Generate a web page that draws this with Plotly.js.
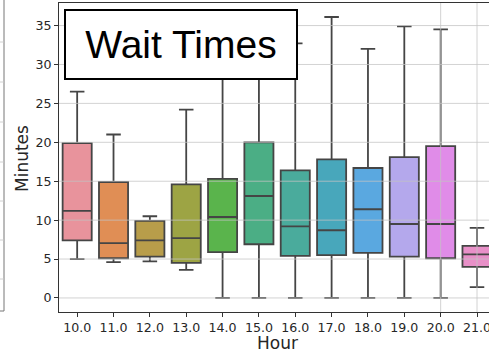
<!DOCTYPE html>
<html>
<head>
<meta charset="utf-8">
<script src="https://cdn.plot.ly/plotly-3.0.1.min.js"></script>
<style>html,body{margin:0;padding:0;background:#fff;}#chart{width:489px;height:354px;}</style>
</head>
<body>
<div id="chart"></div>
<script>
// Data (minutes by hour)
const hours = ['10.0','11.0','12.0','13.0','14.0','15.0','16.0','17.0','18.0','19.0','20.0','21.0'];
const lowerWhisker = [5.0, 4.6, 4.7, 3.6, 0, 0, 0, 0, 0, 0, 0, 1.4];
const q1Values     = [7.4, 5.1, 5.3, 4.5, 5.9, 6.9, 5.4, 5.5, 5.8, 5.3, 5.1, 4.0];
const medianValues = [11.2, 7.05, 7.4, 7.7, 10.4, 13.1, 9.2, 8.7, 11.4, 9.5, 9.5, 5.6];
const q3Values     = [19.9, 14.9, 9.9, 14.6, 15.3, 20.0, 16.4, 17.8, 16.7, 18.1, 19.5, 6.7];
const upperWhisker = [26.5, 21.0, 10.5, 24.2, 31.0, 34.0, 32.7, 36.1, 32.0, 34.9, 34.5, 9.0];
const boxColors = ['#e8939c','#e08e55','#b89d4a','#9da444','#5ab44c','#4bae85',
                   '#4aab9c','#48a7bb','#5aa8e0','#b4a8ec','#e08ce8','#e890c8'];
const yTicks = [0, 5, 10, 15, 20, 25, 30, 35];

const traces = hours.map((h, i) => ({
  type: 'box',
  name: h,
  x: [h],
  q1: [q1Values[i]],
  median: [medianValues[i]],
  q3: [q3Values[i]],
  lowerfence: [lowerWhisker[i]],
  upperfence: [upperWhisker[i]],
  fillcolor: boxColors[i],
  line: {color: '#454545', width: 1.8},
  width: 0.8,
  whiskerwidth: 0.5,
  boxpoints: false,
  showlegend: false
}));

const gridColor = 'rgba(195,195,195,0.75)';
const shapes = [];
hours.forEach(h => shapes.push({type:'line', xref:'x', yref:'paper', x0:h, x1:h, y0:0, y1:1,
  line:{color:gridColor, width:1}, layer:'above'}));
yTicks.forEach(v => shapes.push({type:'line', xref:'paper', yref:'y', x0:0, x1:1, y0:v, y1:v,
  line:{color:gridColor, width:1}, layer:'above'}));

// remnant of a neighbouring panel at the far left edge
const pxX = p => (p - 59) / 430;
const pxY = p => (312 - p) / 309;
shapes.push({type:'line', xref:'paper', yref:'paper', x0:pxX(4), x1:pxX(4), y0:pxY(0), y1:pxY(311),
  line:{color:'#777', width:1}});
shapes.push({type:'line', xref:'paper', yref:'paper', x0:pxX(-2), x1:pxX(4), y0:pxY(311), y1:pxY(311),
  line:{color:'#777', width:1}});
[42, 82, 122, 162, 201, 240, 279].forEach(p => shapes.push({type:'line', xref:'paper', yref:'paper',
  x0:pxX(-2), x1:pxX(3.5), y0:pxY(p), y1:pxY(p), line:{color:'#d0d0d0', width:1}}));

const tickFont = {family:'DejaVu Sans', size:12.6, color:'#262626'};

const layout = {
  width: 489, height: 354,
  margin: {l:59, r:0, t:3, b:42, pad:0},
  paper_bgcolor: '#ffffff', plot_bgcolor: '#ffffff',
  showlegend: false,
  boxmode: 'overlay',
  xaxis: {
    type: 'category', range: [-0.5, 11.33],
    showgrid: false, zeroline: false,
    showline: true, mirror: true, linecolor: '#333', linewidth: 1,
    ticks: 'outside', ticklen: 4, tickcolor: '#333',
    tickfont: tickFont, fixedrange: true
  },
  yaxis: {
    range: [-1.805, 37.9], tickvals: yTicks,
    showgrid: false, zeroline: false,
    showline: true, linecolor: '#333', linewidth: 1,
    ticks: 'outside', ticklen: 4, tickcolor: '#333',
    tickfont: tickFont, fixedrange: true
  },
  shapes: shapes,
  annotations: [
    {text:'Minutes', xref:'paper', yref:'paper', x:pxX(22), y:pxY(159), textangle:-90,
     showarrow:false, xanchor:'center', yanchor:'middle',
     font:{family:'DejaVu Sans', size:17, color:'#262626'}},
    {text:'Hour', xref:'paper', yref:'paper', x:pxX(277), y:pxY(343),
     showarrow:false, xanchor:'center', yanchor:'middle',
     font:{family:'DejaVu Sans', size:17, color:'#262626'}},
    {text:'Wait Times', xref:'paper', yref:'paper', x:pxX(64), y:pxY(9),
     xanchor:'left', yanchor:'top', showarrow:false,
     width:230, height:67, borderpad:0, borderwidth:2, bordercolor:'#000', bgcolor:'#ffffff',
     align:'center', valign:'middle',
     font:{family:'Liberation Sans', size:39, color:'#000'}}
  ]
};

Plotly.newPlot('chart', traces, layout, {displayModeBar:false, staticPlot:true});
</script>
</body>
</html>
